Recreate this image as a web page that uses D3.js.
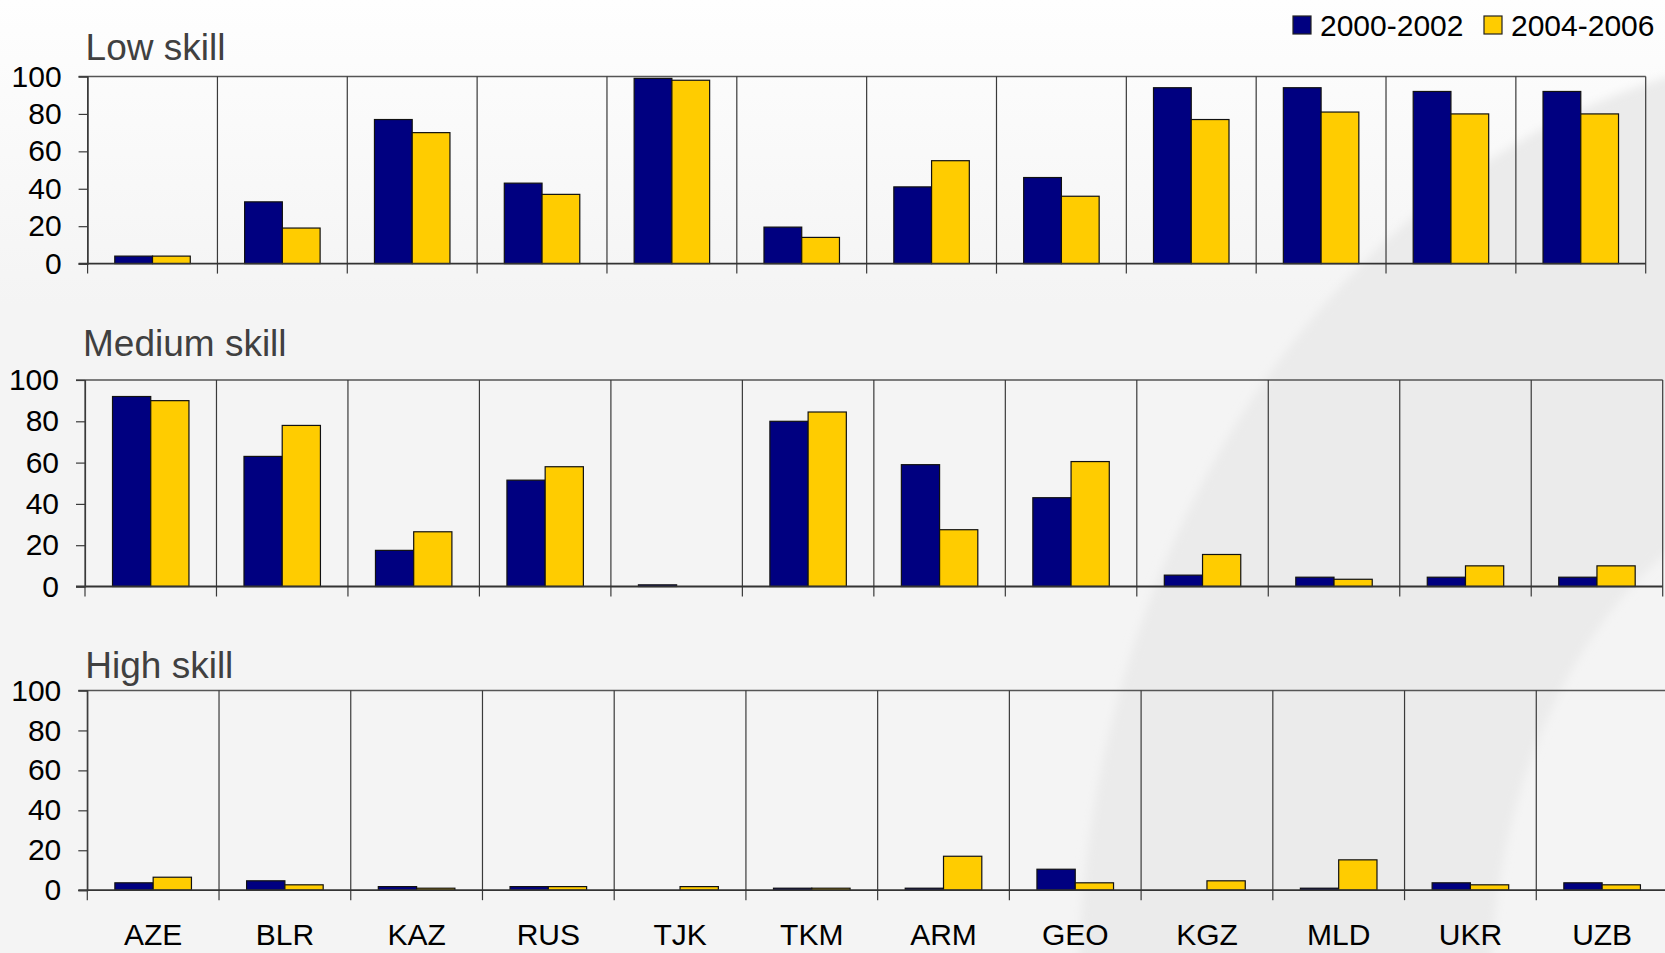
<!DOCTYPE html>
<html><head><meta charset="utf-8">
<script src="https://cdn.jsdelivr.net/npm/d3@7"></script>
<style>html,body{margin:0;padding:0;background:#f4f4f4;overflow:hidden}svg{display:block}</style>
</head><body>
<script>
// ---- data ----
const countries = ["AZE","BLR","KAZ","RUS","TJK","TKM","ARM","GEO","KGZ","MLD","UKR","UZB"];
const series = ["2000-2002","2004-2006"];
const yTicks = [0,20,40,60,80,100];
const panelTitles = ["Low skill","Medium skill","High skill"];
const lowSkill2000 = [4,33,77,43,99,19.5,41,46,94,94,92,92];
const lowSkill2004 = [4,19,70,37,98,14,55,36,77,81,80,80];
const mediumSkill2000 = [92,63,17.5,51.5,0.8,80,59,43,5.5,4.5,4.5,4.5];
const mediumSkill2004 = [90,78,26.5,58,0,84.5,27.5,60.5,15.5,3.5,10,10];
const highSkill2000 = [3.7,4.7,1.8,1.8,0,1,1,10.5,0,1,3.7,3.7];
const highSkill2004 = [6.5,2.7,1,1.8,1.8,1,17,3.7,4.7,15.2,2.7,2.7];

// ---- layout / style ----
const W = 1665, H = 953;
const colors = ["#000080","#ffcc00"];
const font = "'Liberation Sans', Arial, sans-serif";
const panels = [
  {title: panelTitles[0], vals:[lowSkill2000, lowSkill2004], left:87.6, right:1645.7, top:76.5, base:263.6, titleY:60},
  {title: panelTitles[1], vals:[mediumSkill2000, mediumSkill2004], left:85, right:1662.7, top:380, base:586.5, titleY:356},
  {title: panelTitles[2], vals:[highSkill2000, highSkill2004], left:87.3, right:1668, top:690.5, base:890.2, titleY:678, labels:true}
];

const svg = d3.select("body").append("svg").attr("width",W).attr("height",H);
const defs = svg.append("defs");
const g1 = defs.append("linearGradient").attr("id","bg").attr("x1",0).attr("y1",0).attr("x2",0).attr("y2",1);
g1.append("stop").attr("offset","0").attr("stop-color","#fefefe");
g1.append("stop").attr("offset","0.32").attr("stop-color","#f4f4f4");
g1.append("stop").attr("offset","1").attr("stop-color","#f4f4f4");
defs.append("filter").attr("id","blur").attr("x","-20%").attr("y","-20%").attr("width","140%").attr("height","140%")
  .append("feGaussianBlur").attr("stdDeviation",5);

svg.append("rect").attr("width",W).attr("height",H).attr("fill","url(#bg)");
// decorative ring
function ell(cx,cy,rx,ry){return `M${cx-rx},${cy} a${rx},${ry} 0 1,0 ${2*rx},0 a${rx},${ry} 0 1,0 ${-2*rx},0 Z`;}
svg.append("path").attr("d", ell(1850,1000,772,950) + " " + ell(1850,1000,360,520))
  .attr("fill","#ebebeb").attr("fill-rule","evenodd").attr("filter","url(#blur)");

const lineCol = "#3a3a3a";

panels.forEach(p => {
  const g = svg.append("g");
  const x0 = d3.scaleBand().domain(countries).range([p.left, p.right]).padding(0);
  const x1 = d3.scaleBand().domain(series).range([0, x0.bandwidth()]).paddingInner(0).paddingOuter(0.72);
  const y = d3.scaleLinear().domain([0,100]).range([p.base, p.top]);

  // title
  g.append("text").attr("x", p.left - 2).attr("y", p.titleY).text(p.title)
    .attr("font-family", font).attr("font-size", 37).attr("fill","#404040");

  // top border
  g.append("line").attr("x1", p.left - 9).attr("x2", p.right).attr("y1", y(100)).attr("y2", y(100))
    .attr("stroke","#555").attr("stroke-width",1.4);

  // category separators
  const bounds = countries.map(c => x0(c)).concat([x0(countries[countries.length-1]) + x0.bandwidth()]);
  g.selectAll("line.sep").data(bounds).join("line").attr("class","sep")
    .attr("x1", d => d).attr("x2", d => d).attr("y1", y(100)).attr("y2", y(0) + 10)
    .attr("stroke", lineCol).attr("stroke-width",1.2);

  // bars
  const bars = [];
  countries.forEach((c,i) => series.forEach((s,k) => { if (p.vals[k][i] > 0) bars.push({c, s, k, v: p.vals[k][i]}); }));
  g.selectAll("rect.bar").data(bars).join("rect").attr("class","bar")
    .attr("x", d => x0(d.c) + x1(d.s)).attr("width", x1.bandwidth())
    .attr("y", d => y(d.v)).attr("height", d => y(0) - y(d.v))
    .attr("fill", d => colors[d.k]).attr("stroke","#111").attr("stroke-width",1.2);

  // baseline
  g.append("line").attr("x1", p.left - 9).attr("x2", p.right).attr("y1", y(0)).attr("y2", y(0))
    .attr("stroke","#333").attr("stroke-width",1.8);

  // y axis
  const ax = g.append("g").attr("transform", `translate(${p.left},0)`)
    .call(d3.axisLeft(y).tickValues(yTicks).tickSize(9).tickPadding(17).tickFormat(d3.format("d")));
  ax.select(".domain").attr("stroke", lineCol).attr("stroke-width",1.2);
  ax.selectAll(".tick line").attr("stroke", lineCol).attr("stroke-width",1.2);
  ax.selectAll(".tick text").attr("font-family", font).attr("font-size", 30).attr("fill","#000");

  if (p.labels) {
    g.selectAll("text.cat").data(countries).join("text").attr("class","cat")
      .attr("x", d => x0(d) + x0.bandwidth()/2).attr("y", 945)
      .attr("text-anchor","middle").attr("font-family", font).attr("font-size", 30).attr("fill","#000")
      .text(d => d);
  }
});

// legend
const legX = [1293, 1484];
const leg = svg.append("g");
series.forEach((s,k) => {
  leg.append("rect").attr("x", legX[k]).attr("y", 16).attr("width", 18).attr("height", 18)
    .attr("fill", colors[k]).attr("stroke","#222").attr("stroke-width",1.2);
  leg.append("text").attr("x", legX[k] + 27).attr("y", 36).text(s)
    .attr("font-family", font).attr("font-size", 30).attr("fill","#000");
});
</script>
</body></html>
